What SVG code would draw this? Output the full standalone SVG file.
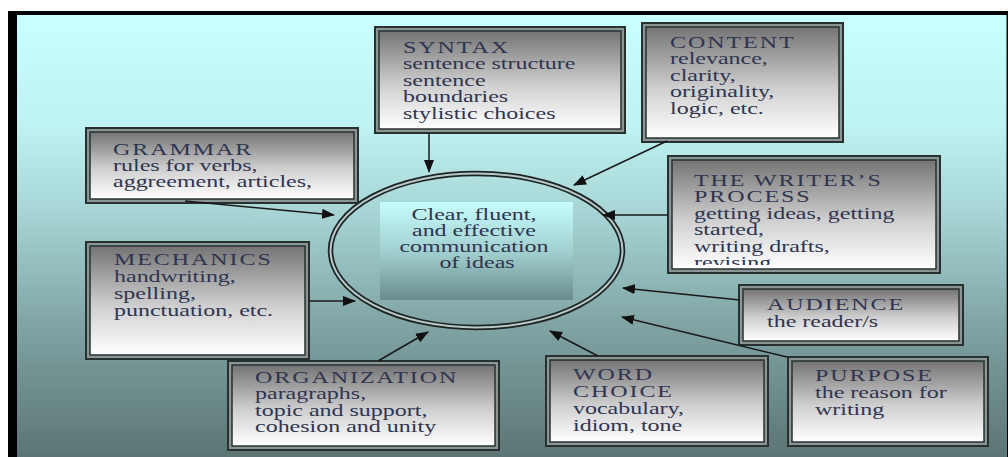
<svg xmlns="http://www.w3.org/2000/svg" width="1008" height="457" viewBox="0 0 1008 457">
  <defs>
    <linearGradient id="bg" x1="0" y1="15" x2="0" y2="457" gradientUnits="userSpaceOnUse">
      <stop offset="0" stop-color="#c8ffff"/>
      <stop offset="0.25" stop-color="#bff2f2"/>
      <stop offset="0.45" stop-color="#a6d4d4"/>
      <stop offset="0.7" stop-color="#80a4a4"/>
      <stop offset="1" stop-color="#5c7474"/>
    </linearGradient>
    <linearGradient id="boxg" x1="0" y1="0" x2="0" y2="1">
      <stop offset="0" stop-color="#747474"/>
      <stop offset="0.55" stop-color="#cfcfcf"/>
      <stop offset="1" stop-color="#ffffff"/>
    </linearGradient>
    <linearGradient id="centg" x1="0" y1="0" x2="0" y2="1">
      <stop offset="0" stop-color="#c6fcfc"/>
      <stop offset="0.5" stop-color="#a2d0d0"/>
      <stop offset="1" stop-color="#6a8c8c"/>
    </linearGradient>
    <marker id="arr" markerWidth="13" markerHeight="10" refX="12" refY="5" orient="auto" markerUnits="userSpaceOnUse">
      <path d="M0,0 L13,5 L0,10 Z" fill="#111"/>
    </marker>
    <clipPath id="wclip"><rect x="672" y="160" width="264" height="105"/></clipPath>
  </defs>
  <style>
    .outer { fill: #8a9696; stroke: #283030; stroke-width: 2; }
    .inner { fill: url(#boxg); stroke: #283030; stroke-width: 1.5; }
    .t { font-family: "Liberation Serif", "Times New Roman", serif; font-size: 16px; fill: #2f3550; }
    .h { letter-spacing: 1.3px; }
    .conn line { stroke: #1a1a1a; stroke-width: 1.5; marker-end: url(#arr); }
  </style>

  <!-- frame and background -->
  <rect x="8" y="11" width="1000" height="446" fill="#000"/>
  <rect x="17" y="15" width="989" height="442" fill="url(#bg)"/>
  <line x1="1006.5" y1="15" x2="1006.5" y2="457" stroke="#6a7c7c" stroke-width="1"/>

  <!-- center -->
  <g id="center">
    <rect x="380" y="202" width="193" height="98" fill="url(#centg)"/>
    <ellipse cx="476.5" cy="250.5" rx="146" ry="77" fill="none" stroke="#1e2424" stroke-width="5.5"/>
    <ellipse cx="476.5" cy="250.5" rx="146" ry="77" fill="none" stroke="#b6c8c8" stroke-width="2"/>
    <text class="t" text-anchor="middle" transform="translate(477,220) scale(1.5,1)">
      <tspan x="0" y="0">Clear, fluent,</tspan>
      <tspan x="0" y="16.5">and effective</tspan>
      <tspan x="0" y="32.5">communication</tspan>
      <tspan x="0" y="48.5">of ideas</tspan>
    </text>
  </g>

  <g id="syntax">
    <rect class="outer" x="375" y="27" width="250" height="106"/>
    <rect class="inner" x="379" y="31" width="242" height="98"/>
    <text class="t" transform="translate(403,53) scale(1.5,1)">
      <tspan class="h" x="0" y="0">SYNTAX</tspan>
      <tspan x="0" y="16.5">sentence structure</tspan>
      <tspan x="0" y="33">sentence</tspan>
      <tspan x="0" y="49.5">boundaries</tspan>
      <tspan x="0" y="66">stylistic choices</tspan>
    </text>
  </g>

  <g id="content">
    <rect class="outer" x="642" y="23" width="201" height="119"/>
    <rect class="inner" x="646" y="27" width="193" height="111"/>
    <text class="t" transform="translate(670,48) scale(1.5,1)">
      <tspan class="h" x="0" y="0">CONTENT</tspan>
      <tspan x="0" y="16.5">relevance,</tspan>
      <tspan x="0" y="33">clarity,</tspan>
      <tspan x="0" y="49.5">originality,</tspan>
      <tspan x="0" y="66">logic, etc.</tspan>
    </text>
  </g>

  <g id="grammar">
    <rect class="outer" x="86" y="128" width="272" height="75"/>
    <rect class="inner" x="90" y="132" width="264" height="67"/>
    <text class="t" transform="translate(113,155) scale(1.5,1)">
      <tspan class="h" x="0" y="0">GRAMMAR</tspan>
      <tspan x="0" y="16">rules for verbs,</tspan>
      <tspan x="0" y="32">aggreement, articles,</tspan>
    </text>
  </g>

  <g id="writers-process">
    <rect class="outer" x="668" y="156" width="272" height="117"/>
    <rect class="inner" x="672" y="160" width="264" height="109"/>
    <g clip-path="url(#wclip)">
      <text class="t" transform="translate(694,186) scale(1.5,1)">
        <tspan class="h" x="0" y="0">THE WRITER’S</tspan>
        <tspan class="h" x="0" y="16.5">PROCESS</tspan>
        <tspan x="0" y="33">getting ideas, getting</tspan>
        <tspan x="0" y="49.5">started,</tspan>
        <tspan x="0" y="66">writing drafts,</tspan>
        <tspan x="0" y="82.5">revising</tspan>
      </text>
    </g>
  </g>

  <g id="mechanics">
    <rect class="outer" x="86" y="242" width="223" height="117"/>
    <rect class="inner" x="90" y="246" width="215" height="109"/>
    <text class="t" transform="translate(114,265) scale(1.5,1)">
      <tspan class="h" x="0" y="0">MECHANICS</tspan>
      <tspan x="0" y="17">handwriting,</tspan>
      <tspan x="0" y="34">spelling,</tspan>
      <tspan x="0" y="51">punctuation, etc.</tspan>
    </text>
  </g>

  <g id="audience">
    <rect class="outer" x="739" y="285" width="224" height="60"/>
    <rect class="inner" x="743" y="289" width="216" height="52"/>
    <text class="t" transform="translate(767,310) scale(1.5,1)">
      <tspan class="h" x="0" y="0">AUDIENCE</tspan>
      <tspan x="0" y="17.5">the reader/s</tspan>
    </text>
  </g>

  <g id="organization">
    <rect class="outer" x="228" y="361" width="271" height="89"/>
    <rect class="inner" x="232" y="365" width="263" height="81"/>
    <text class="t" transform="translate(255,383) scale(1.5,1)">
      <tspan class="h" x="0" y="0">ORGANIZATION</tspan>
      <tspan x="0" y="16.5">paragraphs,</tspan>
      <tspan x="0" y="33">topic and support,</tspan>
      <tspan x="0" y="49.5">cohesion and unity</tspan>
    </text>
  </g>

  <g id="word-choice">
    <rect class="outer" x="546" y="356" width="222" height="90"/>
    <rect class="inner" x="550" y="360" width="214" height="82"/>
    <text class="t" transform="translate(573,380) scale(1.5,1)">
      <tspan class="h" x="0" y="0">WORD</tspan>
      <tspan class="h" x="0" y="17.5">CHOICE</tspan>
      <tspan x="0" y="34">vocabulary,</tspan>
      <tspan x="0" y="51">idiom, tone</tspan>
    </text>
  </g>

  <g id="purpose">
    <rect class="outer" x="788" y="357" width="200" height="89"/>
    <rect class="inner" x="792" y="361" width="192" height="81"/>
    <text class="t" transform="translate(815,381) scale(1.5,1)">
      <tspan class="h" x="0" y="0">PURPOSE</tspan>
      <tspan x="0" y="17">the reason for</tspan>
      <tspan x="0" y="34">writing</tspan>
    </text>
  </g>

  <g id="connectors" class="conn">
    <line x1="185" y1="201" x2="334" y2="215"/>
    <line x1="429" y1="133" x2="429" y2="172"/>
    <line x1="667" y1="141" x2="574" y2="185"/>
    <line x1="668" y1="215" x2="603" y2="215"/>
    <line x1="309" y1="301" x2="355" y2="301"/>
    <line x1="378" y1="361" x2="428" y2="332"/>
    <line x1="598" y1="356" x2="550" y2="331"/>
    <line x1="740" y1="300" x2="623" y2="288"/>
    <line x1="787" y1="357" x2="622" y2="317"/>
  </g>
</svg>
